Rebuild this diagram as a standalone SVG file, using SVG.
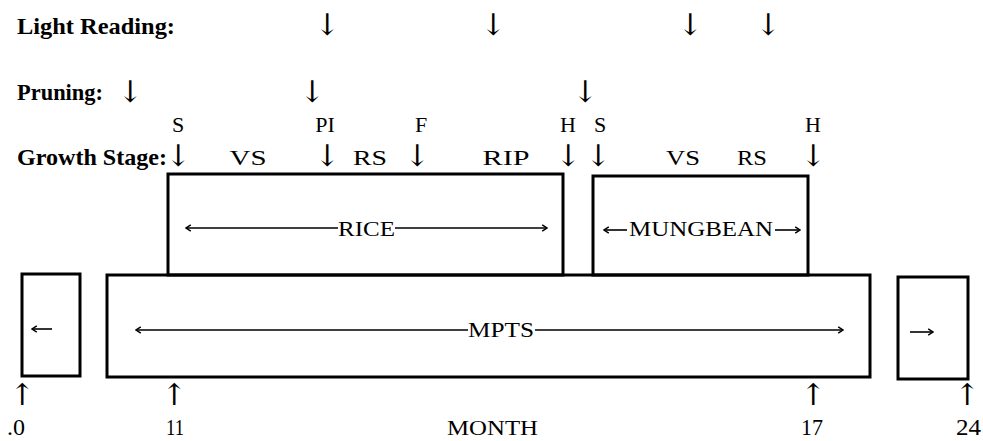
<svg xmlns="http://www.w3.org/2000/svg" width="983" height="441" viewBox="0 0 983 441">
<style>
  .lbl { font-family: "Liberation Serif", "Times New Roman", serif; font-size: 22px; fill: #000; }
  .num { font-family: "Liberation Serif", "Times New Roman", serif; font-size: 24px; fill: #000; }
  .hd { font-family: "Liberation Serif", "Times New Roman", serif; font-size: 24px; font-weight: bold; fill: #000; }
  .ar { font-family: "DejaVu Serif", "Liberation Serif", serif; font-size: 30px; fill: #000; text-anchor: middle; }
  .mid { text-anchor: middle; }
  .box { fill: none; stroke: #000; stroke-width: 3; }
  .ln { fill: none; stroke: #000; stroke-width: 1.6; }
</style>
<defs>
  <marker id="head" viewBox="0 0 10 10" refX="9" refY="5" markerWidth="8" markerHeight="8" markerUnits="userSpaceOnUse" orient="auto-start-reverse">
    <path d="M3,1 L9,5 L3,9" fill="none" stroke="#000" stroke-width="1.8"/>
  </marker>
</defs>
<rect width="983" height="441" fill="#fff"/>

<g id="light-reading">
  <text class="hd" x="17" y="34" textLength="158" lengthAdjust="spacingAndGlyphs">Light Reading:</text>
  <text class="ar" x="327" y="35">↓</text>
  <text class="ar" x="493" y="35">↓</text>
  <text class="ar" x="690" y="35">↓</text>
  <text class="ar" x="768" y="35">↓</text>
</g>

<g id="pruning">
  <text class="hd" x="17" y="100" textLength="86" lengthAdjust="spacingAndGlyphs">Pruning:</text>
  <text class="ar" x="130" y="102">↓</text>
  <text class="ar" x="312" y="102">↓</text>
  <text class="ar" x="585" y="102">↓</text>
</g>

<g id="growth-stage">
  <text class="hd" x="17" y="165" textLength="150" lengthAdjust="spacingAndGlyphs">Growth Stage:</text>
  <text class="lbl mid" x="178" y="132">S</text>
  <text class="lbl mid" x="325" y="132">PI</text>
  <text class="lbl mid" x="421" y="132">F</text>
  <text class="lbl mid" x="568" y="132">H</text>
  <text class="lbl mid" x="600" y="132">S</text>
  <text class="lbl mid" x="813" y="132">H</text>
  <text class="ar" x="178" y="166">↓</text>
  <text class="ar" x="327" y="166">↓</text>
  <text class="ar" x="417" y="166">↓</text>
  <text class="ar" x="568" y="166">↓</text>
  <text class="ar" x="598" y="166">↓</text>
  <text class="ar" x="813" y="166">↓</text>
  <text class="lbl mid" x="248" y="165" textLength="37" lengthAdjust="spacingAndGlyphs">VS</text>
  <text class="lbl mid" x="370" y="165" textLength="34" lengthAdjust="spacingAndGlyphs">RS</text>
  <text class="lbl mid" x="506" y="165" textLength="47" lengthAdjust="spacingAndGlyphs">RIP</text>
  <text class="lbl mid" x="683" y="165" textLength="34" lengthAdjust="spacingAndGlyphs">VS</text>
  <text class="lbl mid" x="752" y="165" textLength="30" lengthAdjust="spacingAndGlyphs">RS</text>
</g>

<g id="rice">
  <rect class="box" x="168" y="174" width="395" height="101"/>
  <text class="lbl" x="338" y="236" font-size="24" textLength="57" lengthAdjust="spacingAndGlyphs">RICE</text>
</g>

<g id="mungbean">
  <rect class="box" x="593" y="176" width="215" height="99"/>
  <text class="lbl" x="629" y="236" font-size="24" textLength="144" lengthAdjust="spacingAndGlyphs">MUNGBEAN</text>
</g>

<g id="mpts">
  <rect class="box" x="107" y="275" width="763" height="102"/>
  <text class="lbl" x="468" y="337" font-size="25" textLength="66" lengthAdjust="spacingAndGlyphs">MPTS</text>
</g>

<g id="prev">
  <rect class="box" x="22" y="274" width="58" height="102"/>
</g>

<g id="next">
  <rect class="box" x="898" y="277" width="70" height="102"/>
</g>

<g id="connectors">
  <path class="ln" d="M338,228 L186,228" marker-end="url(#head)"/>
  <path class="ln" d="M395,228 L547,228" marker-end="url(#head)"/>
  <path class="ln" d="M627,230 L604,230" marker-end="url(#head)"/>
  <path class="ln" d="M775,230 L800,230" marker-end="url(#head)"/>
  <path class="ln" d="M468,330 L136,330" marker-end="url(#head)"/>
  <path class="ln" d="M535,330 L843,330" marker-end="url(#head)"/>
  <path class="ln" d="M52,329 L32,329" marker-end="url(#head)"/>
  <path class="ln" d="M910,332 L933,332" marker-end="url(#head)"/>
</g>

<g id="axis">
  <text class="ar" x="22" y="405">↑</text>
  <text class="ar" x="174" y="405">↑</text>
  <text class="ar" x="813" y="405">↑</text>
  <text class="ar" x="967" y="405">↑</text>
  <text class="num" x="7" y="435" textLength="18" lengthAdjust="spacingAndGlyphs">.0</text>
  <text class="num" x="166" y="435" textLength="18" lengthAdjust="spacingAndGlyphs">11</text>
  <text class="lbl" x="447" y="435" textLength="91" lengthAdjust="spacingAndGlyphs">MONTH</text>
  <text class="num" x="801" y="435" textLength="22" lengthAdjust="spacingAndGlyphs">17</text>
  <text class="num" x="956" y="435" textLength="25" lengthAdjust="spacingAndGlyphs">24</text>
</g>
</svg>
